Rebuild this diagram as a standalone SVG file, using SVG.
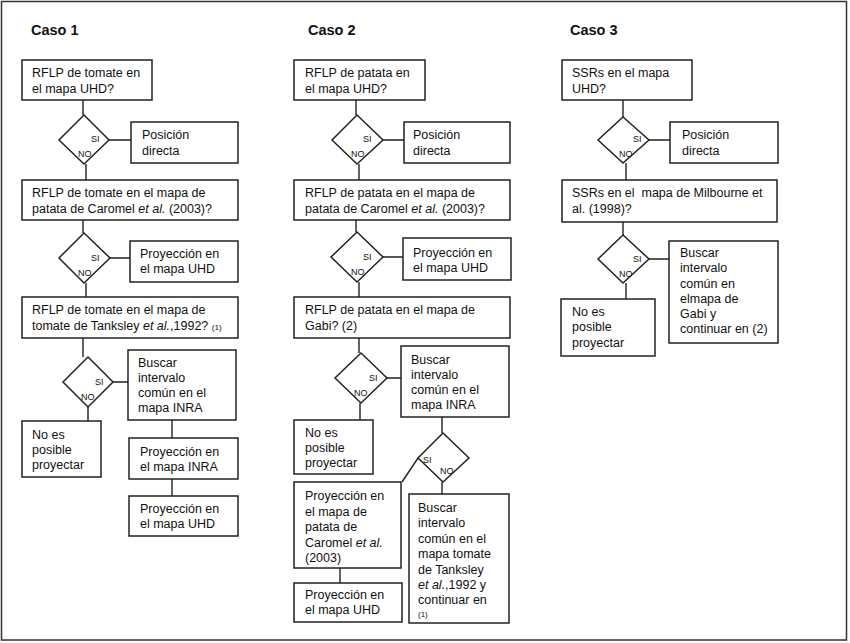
<svg xmlns="http://www.w3.org/2000/svg" width="850" height="643" viewBox="0 0 850 643">
<style>
.box{fill:#fff;stroke:#222;stroke-width:1.5}
.dia{fill:#fff;stroke:#222;stroke-width:1.5}
.ln{fill:none;stroke:#222;stroke-width:1.4}
text{font-family:"Liberation Sans",Arial,sans-serif;fill:#111}
.t{font-size:12.5px}
.h{font-size:14.5px;font-weight:bold}
.s{font-size:9px}
.xs{font-size:8px}
.i{font-style:italic}
</style>
<rect x="1.5" y="1.5" width="845" height="638.5" fill="#fff" stroke="#333" stroke-width="1.5"/>
<text class="h" x="31" y="35">Caso 1</text>
<text class="h" x="308" y="35">Caso 2</text>
<text class="h" x="570" y="35">Caso 3</text>
<g id="connectors">
<!-- Caso 1 -->
<path class="ln" d="M83,100V115 M109,140H131 M86,164V180 M83,220V233 M110,258H130 M86,283V297 M83,338V357 M113,382H128 M88,407V421 M172,420V438 M172,479V496"/>
<!-- Caso 2 -->
<path class="ln" d="M356,100V115 M383,140H404 M359,164V180 M356,220V232 M383,257H403 M359,282V297 M359,338V353 M387,378H401 M360,403V420 M442,417V433 M418,458L402,482 M442,482V494 M340,568V583"/>
<!-- Caso 3 -->
<path class="ln" d="M623,100V117 M649,140H670 M626,163V180 M623,222V235 M649,259H669 M626,283V299"/>
</g>
<!-- Caso 1 nodes -->
<g id="c1-q1"><rect class="box" x="22" y="60" width="130" height="40"/><text class="t" x="32" y="77">RFLP de tomate en</text><text class="t" x="32" y="93">el mapa UHD?</text></g>
<g id="c1-d1"><polygon class="dia" points="84,115 109,140 84,164 59,140"/><text class="s" x="91" y="142">SI</text><text class="s" x="78" y="157">NO</text></g>
<g id="c1-r1"><rect class="box" x="131" y="122" width="107" height="41"/><text class="t" x="142" y="139">Posición</text><text class="t" x="142" y="155">directa</text></g>
<g id="c1-q2"><rect class="box" x="22" y="180" width="216" height="40"/><text class="t" x="32" y="197">RFLP de tomate en el mapa de</text><text class="t" x="32" y="213">patata de Caromel <tspan class="i">et al.</tspan> (2003)?</text></g>
<g id="c1-d2"><polygon class="dia" points="84,233 110,258 84,283 59,258"/><text class="s" x="91" y="261">SI</text><text class="s" x="78" y="276">NO</text></g>
<g id="c1-r2"><rect class="box" x="130" y="241" width="108" height="41"/><text class="t" x="140" y="258">Proyección en</text><text class="t" x="140" y="273">el mapa UHD</text></g>
<g id="c1-q3"><rect class="box" x="22" y="297" width="216" height="41"/><text class="t" x="32" y="314">RFLP de tomate en el mapa de</text><text class="t" x="32" y="330">tomate de Tanksley <tspan class="i">et al.</tspan>,1992? <tspan class="xs">(1)</tspan></text></g>
<g id="c1-d3"><polygon class="dia" points="88,357 113,382 88,407 63,382"/><text class="s" x="95" y="385">SI</text><text class="s" x="81" y="400">NO</text></g>
<g id="c1-r3"><rect class="box" x="128" y="350" width="108" height="70"/><text class="t" x="138" y="367">Buscar</text><text class="t" x="138" y="382">intervalo</text><text class="t" x="138" y="397">común en el</text><text class="t" x="138" y="412">mapa INRA</text></g>
<g id="c1-no"><rect class="box" x="22" y="421" width="79" height="56"/><text class="t" x="32" y="439">No es</text><text class="t" x="32" y="454">posible</text><text class="t" x="32" y="469">proyectar</text></g>
<g id="c1-r4"><rect class="box" x="129" y="438" width="109" height="41"/><text class="t" x="140" y="456">Proyección en</text><text class="t" x="140" y="471">el mapa INRA</text></g>
<g id="c1-r5"><rect class="box" x="129" y="496" width="109" height="40"/><text class="t" x="140" y="513">Proyección en</text><text class="t" x="140" y="528">el mapa UHD</text></g>
<!-- Caso 2 nodes -->
<g id="c2-q1"><rect class="box" x="294" y="60" width="131" height="40"/><text class="t" x="305" y="77">RFLP de patata en</text><text class="t" x="305" y="93">el mapa UHD?</text></g>
<g id="c2-d1"><polygon class="dia" points="357,115 383,140 357,164 332,140"/><text class="s" x="363" y="142">SI</text><text class="s" x="351" y="157">NO</text></g>
<g id="c2-r1"><rect class="box" x="404" y="122" width="106" height="41"/><text class="t" x="413" y="139">Posición</text><text class="t" x="413" y="155">directa</text></g>
<g id="c2-q2"><rect class="box" x="294" y="180" width="216" height="40"/><text class="t" x="305" y="197">RFLP de patata en el mapa de</text><text class="t" x="305" y="213">patata de Caromel <tspan class="i">et al.</tspan> (2003)?</text></g>
<g id="c2-d2"><polygon class="dia" points="357,232 383,257 357,282 331,257"/><text class="s" x="363" y="260">SI</text><text class="s" x="351" y="275">NO</text></g>
<g id="c2-r2"><rect class="box" x="403" y="238" width="108" height="42"/><text class="t" x="413" y="257">Proyección en</text><text class="t" x="413" y="272">el mapa UHD</text></g>
<g id="c2-q3"><rect class="box" x="294" y="297" width="216" height="41"/><text class="t" x="305" y="314">RFLP de patata en el mapa de</text><text class="t" x="305" y="330">Gabi? (2)</text></g>
<g id="c2-d3"><polygon class="dia" points="361,353 387,378 361,403 335,378"/><text class="s" x="369" y="381">SI</text><text class="s" x="354" y="396">NO</text></g>
<g id="c2-r3"><rect class="box" x="401" y="346" width="108" height="71"/><text class="t" x="411" y="364">Buscar</text><text class="t" x="411" y="379">intervalo</text><text class="t" x="411" y="394">común en el</text><text class="t" x="411" y="409">mapa INRA</text></g>
<g id="c2-no"><rect class="box" x="294" y="420" width="79" height="54"/><text class="t" x="305" y="437">No es</text><text class="t" x="305" y="452">posible</text><text class="t" x="305" y="467">proyectar</text></g>
<g id="c2-d4"><polygon class="dia" points="443,433 469,458 443,482 418,458"/><text class="s" x="423" y="463">SI</text><text class="s" x="440" y="474">NO</text></g>
<g id="c2-r4"><rect class="box" x="294" y="482" width="107" height="86"/><text class="t" x="305" y="500">Proyección en</text><text class="t" x="305" y="516">el mapa de</text><text class="t" x="305" y="531">patata de</text><text class="t" x="305" y="547">Caromel <tspan class="i">et al.</tspan></text><text class="t" x="305" y="562">(2003)</text></g>
<g id="c2-r5"><rect class="box" x="294" y="583" width="108" height="39"/><text class="t" x="305" y="599">Proyección en</text><text class="t" x="305" y="614">el mapa UHD</text></g>
<g id="c2-r6"><rect class="box" x="409" y="494" width="100" height="129"/><text class="t" x="418" y="512">Buscar</text><text class="t" x="418" y="527">intervalo</text><text class="t" x="418" y="543">común en el</text><text class="t" x="418" y="558">mapa tomate</text><text class="t" x="418" y="574">de Tanksley</text><text class="t" x="418" y="589"><tspan class="i">et al.</tspan>,1992 y</text><text class="t" x="418" y="604">continuar en</text><text class="xs" x="418" y="617">(1)</text></g>
<!-- Caso 3 nodes -->
<g id="c3-q1"><rect class="box" x="562" y="60" width="130" height="40"/><text class="t" x="572" y="77">SSRs en el mapa</text><text class="t" x="572" y="93">UHD?</text></g>
<g id="c3-d1"><polygon class="dia" points="623,117 649,140 623,163 598,140"/><text class="s" x="633" y="142">SI</text><text class="s" x="619" y="157">NO</text></g>
<g id="c3-r1"><rect class="box" x="670" y="122" width="108" height="41"/><text class="t" x="682" y="139">Posición</text><text class="t" x="682" y="155">directa</text></g>
<g id="c3-q2"><rect class="box" x="562" y="180" width="215" height="42"/><text class="t" x="572" y="197" xml:space="preserve">SSRs en el  mapa de Milbourne et</text><text class="t" x="572" y="213">al. (1998)?</text></g>
<g id="c3-d2"><polygon class="dia" points="623,235 649,259 623,283 598,259"/><text class="s" x="633" y="262">SI</text><text class="s" x="619" y="277">NO</text></g>
<g id="c3-r2"><rect class="box" x="669" y="241" width="109" height="102"/><text class="t" x="680" y="257">Buscar</text><text class="t" x="680" y="272">intervalo</text><text class="t" x="680" y="288">común en</text><text class="t" x="680" y="303">elmapa de</text><text class="t" x="680" y="318">Gabi y</text><text class="t" x="680" y="333">continuar en (2)</text></g>
<g id="c3-no"><rect class="box" x="561" y="299" width="94" height="57"/><text class="t" x="572" y="316">No es</text><text class="t" x="572" y="331">posible</text><text class="t" x="572" y="347">proyectar</text></g>
</svg>
